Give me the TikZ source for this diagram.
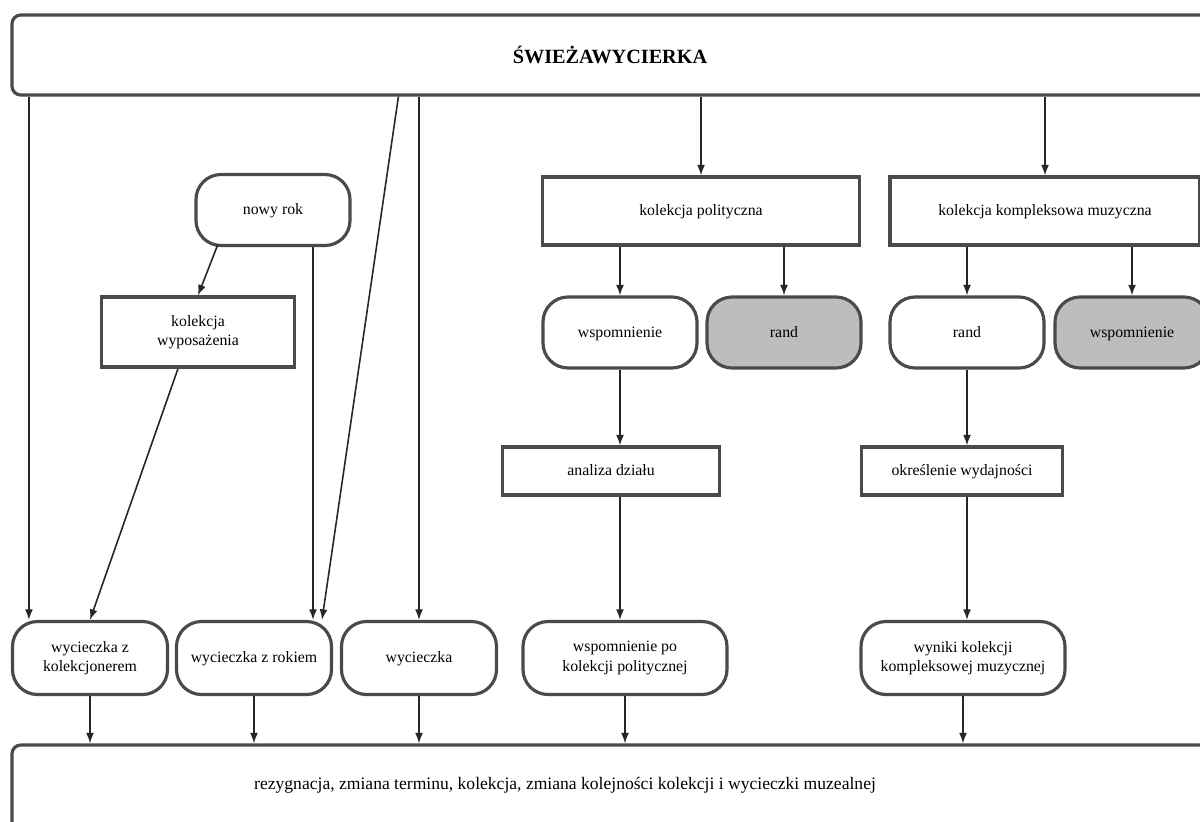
\documentclass[tikz,border=0pt]{standalone}
\usepackage{fontspec}
\setmainfont{Liberation Serif}
\usepackage{xcolor}
\usetikzlibrary{arrows.meta, positioning, calc}
\definecolor{clrLine}{HTML}{4A4A4A}
\definecolor{clrArrow}{HTML}{262626}
\definecolor{clrGreyFill}{HTML}{BDBDBD}
\tikzset{
  frame box/.style={rectangle, draw=clrLine, line width=1.8pt, fill=white, rounded corners=5pt, inner sep=0pt},
  item box/.style={rectangle, draw=clrLine, line width=1.8pt, fill=white, minimum height=0.96cm, font=\small, align=center, inner sep=1pt},
  item round/.style={rectangle, draw=clrLine, line width=1.8pt, fill=white, rounded corners=0.5cm, minimum width=3.08cm, minimum height=1.42cm, font=\small, align=center, inner sep=1pt},
  item grey/.style={item round, fill=clrGreyFill},
  one line/.style={text height=1.6ex, text depth=0.45ex},
  arr/.style={-{Latex[length=6pt, width=4.5pt]}, line width=0.9pt, clrArrow},
}

\begin{document}
\begin{tikzpicture}
  \useasboundingbox (0,0) rectangle (24,-16.42);

  % Frame boxes
  \node[frame box, minimum width=23.92cm, minimum height=1.6cm, font=\fontsize{11.5}{13}\selectfont\bfseries] (trip) at (12.2,-1.1) {ŚWIEŻAWYCIERKA};
  \node[frame box, minimum width=23.92cm, minimum height=1.8cm] (base) at (12.2,-15.8) {};
  \node[font=\normalsize] (baseText) at (11.3,-15.7) {rezygnacja, zmiana terminu, kolekcja, zmiana kolejności kolekcji i wycieczki muzealnej};

  % Left branch
  \node[item round, one line] (newyear) at (5.46,-4.2) {nowy rok};
  \node[item box, minimum width=3.86cm, minimum height=1.4cm] (colbox) at (3.96,-6.64) {kolekcja\\wyposażenia};

  % Middle branch
  \node[item box, one line, minimum width=6.34cm, minimum height=1.36cm] (polbox) at (14.02,-4.22) {kolekcja polityczna};
  \node[item round, one line] (memA) at (12.4,-6.65) {wspomnienie};
  \node[item grey, one line] (randA) at (15.68,-6.65) {rand};
  \node[item box, one line, minimum width=4.34cm] (anl) at (12.22,-9.42) {analiza działu};

  % Right branch
  \node[item box, one line, minimum width=6.2cm, minimum height=1.36cm] (cmpbox) at (20.9,-4.22) {kolekcja kompleksowa muzyczna};
  \node[item round, one line] (randB) at (19.34,-6.65) {rand};
  \node[item grey, one line] (memB) at (22.64,-6.65) {wspomnienie};
  \node[item box, one line, minimum width=4.02cm] (det) at (19.24,-9.42) {określenie wydajności};

  % Bottom row
  \node[item round, minimum width=3.1cm, minimum height=1.46cm] (tripCol) at (1.8,-13.16) {wycieczka z\\kolekcjonerem};
  \node[item round, one line, minimum width=3.1cm, minimum height=1.46cm] (tripYear) at (5.08,-13.16) {wycieczka z rokiem};
  \node[item round, one line, minimum width=3.1cm, minimum height=1.46cm] (tripPlain) at (8.38,-13.16) {wycieczka};
  \node[item round, minimum width=4.08cm, minimum height=1.46cm] (memPost) at (12.5,-13.16) {wspomnienie po\\kolekcji politycznej};
  \node[item round, minimum width=4.08cm, minimum height=1.46cm] (results) at (19.26,-13.16) {wyniki kolekcji\\kompleksowej muzycznej};

  % Free ends
  \coordinate (colIn) at ($(tripCol.north west)+(0.36,0)$);
  \coordinate (yearOut) at ($(newyear.south)+(0.8,0)$);
  \coordinate (slantOut) at ($(trip.south west)+(7.76,0)$);

  % Arrows from the top frame
  \draw[arr] (trip.south -| colIn) -- (colIn);
  \draw[arr] (slantOut) -- ($(tripYear.north)+(1.36,0)$);
  \draw[arr] (trip.south -| tripPlain.north) -- (tripPlain.north);
  \draw[arr] (trip.south -| polbox.north) -- (polbox.north);
  \draw[arr] (trip.south -| cmpbox.north) -- (cmpbox.north);

  % Left branch arrows
  \draw[arr] ($(newyear.south)+(-1.1,0.06)$) -- (colbox.north);
  \draw[arr] ($(colbox.south)+(-0.4,0)$) -- (tripCol.north);
  \draw[arr] (yearOut) -- (yearOut |- tripYear.north);

  % Middle and right branch arrows
  \draw[arr] (polbox.south -| memA.north) -- (memA.north);
  \draw[arr] (polbox.south -| randA.north) -- (randA.north);
  \draw[arr] (cmpbox.south -| randB.north) -- (randB.north);
  \draw[arr] (cmpbox.south -| memB.north) -- (memB.north);
  \draw[arr] (memA.south) -- (memA.south |- anl.north);
  \draw[arr] (memA.south |- anl.south) -- (memA.south |- memPost.north);
  \draw[arr] (randB.south) -- (randB.south |- det.north);
  \draw[arr] (randB.south |- det.south) -- (randB.south |- results.north);

  % Into the base frame
  \draw[arr] (tripCol.south) -- (tripCol.south |- base.north);
  \draw[arr] (tripYear.south) -- (tripYear.south |- base.north);
  \draw[arr] (tripPlain.south) -- (tripPlain.south |- base.north);
  \draw[arr] (memPost.south) -- (memPost.south |- base.north);
  \draw[arr] (results.south) -- (results.south |- base.north);
\end{tikzpicture}
\end{document}
